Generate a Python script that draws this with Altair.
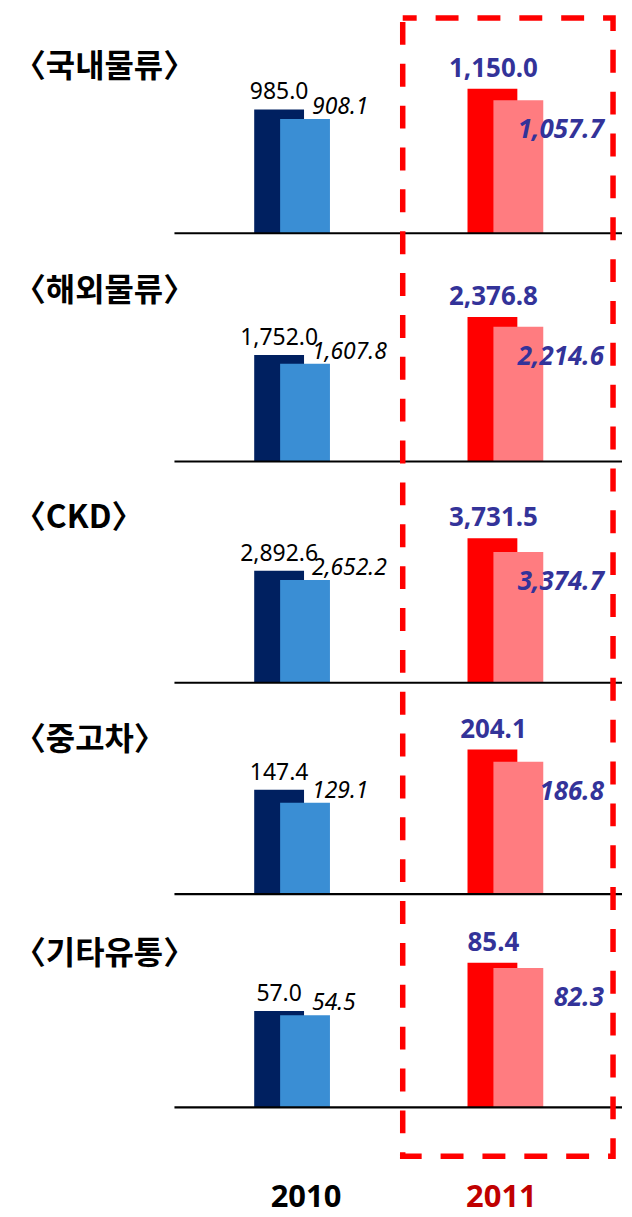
import altair as alt
import pandas as pd

# ---- data ----
categories = ["국내물류", "해외물류", "CKD", "중고차", "기타유통"]
years = ["2010", "2011"]
v2010_a = [985.0, 1752.0, 2892.6, 147.4, 57.0]
v2010_b = [908.1, 1607.8, 2652.2, 129.1, 54.5]
v2011_a = [1150.0, 2376.8, 3731.5, 204.1, 85.4]
v2011_b = [1057.7, 2214.6, 3374.7, 186.8, 82.3]

series_map = [("2010", "A", v2010_a), ("2010", "B", v2010_b),
              ("2011", "A", v2011_a), ("2011", "B", v2011_b)]
rows = []
for i, c in enumerate(categories):
    for yr, s, arr in series_map:
        rows.append({"cat": c, "year": yr, "series": s, "key": yr + s, "value": arr[i]})
df = pd.DataFrame(rows)
title_df = pd.DataFrame({"cat": categories, "label": ["〈" + c + "〉" for c in categories]})
year_df = pd.DataFrame({"year": years})

# ---- layout / style ----
W, H = 616, 1200
baselines = [224, 453, 675, 887, 1101]
title_y = [57, 282, 510, 732, 947]
BAR_H = 145
NUM_FONT = "Noto Sans"
KR_FONT = "Noto Sans CJK KR"
BLUE_TXT = "#333399"

color_scale = alt.Scale(domain=["2010A", "2010B", "2011A", "2011B"],
                        range=["#002060", "#3A8ED4", "#FF0000", "#FF7C80"])
x_scale = alt.Scale(domain=years, range=[178, 606], paddingInner=0, paddingOuter=0)
X = alt.X("year:N", scale=x_scale, axis=None)
C = alt.Color("key:N", scale=color_scale, legend=None)


def panel(i, c):
    vmax = max(v2010_a[i], v2010_b[i], v2011_a[i], v2011_b[i])
    ysc = alt.Scale(domain=[0, vmax], range=[baselines[i], baselines[i] - BAR_H],
                    nice=False, zero=True)
    Y = alt.Y("value:Q", scale=ysc, axis=None)
    base = alt.Chart(df).transform_filter(alt.datum.cat == c)
    T = alt.Text("value:Q", format=",.1f")

    bar_a = base.transform_filter(alt.datum.series == "A").mark_bar(size=50, xOffset=-13).encode(x=X, y=Y, color=C)
    bar_b = base.transform_filter(alt.datum.series == "B").mark_bar(size=50, xOffset=13).encode(x=X, y=Y, color=C)

    t1 = base.transform_filter((alt.datum.series == "A") & (alt.datum.year == "2010")).mark_text(
        xOffset=-13, dy=-10, baseline="alphabetic", align="center", font=NUM_FONT,
        fontSize=23, color="black").encode(x=X, y=Y, text=T)
    t2 = base.transform_filter((alt.datum.series == "B") & (alt.datum.year == "2010")).mark_text(
        xOffset=20, dy=-5, baseline="alphabetic", align="left", font=NUM_FONT,
        fontSize=23, fontStyle="italic", color="black").encode(x=X, y=Y, text=T)
    t3 = base.transform_filter((alt.datum.series == "A") & (alt.datum.year == "2011")).mark_text(
        xOffset=-12, dy=-12, baseline="alphabetic", align="center", font=NUM_FONT,
        fontSize=26, fontWeight="bold", color=BLUE_TXT).encode(x=X, y=Y, text=T)
    t4 = base.transform_filter((alt.datum.series == "B") & (alt.datum.year == "2011")).mark_text(
        xOffset=99, dy=38, baseline="alphabetic", align="right", font=NUM_FONT,
        fontSize=26, fontWeight="bold", fontStyle="italic", color=BLUE_TXT).encode(x=X, y=Y, text=T)

    rule = alt.Chart(title_df).transform_filter(alt.datum.cat == c).mark_rule(
        strokeWidth=2.2, color="black").encode(
        y=alt.YDatum(0, type="quantitative", scale=ysc, axis=None),
        x=alt.value(167), x2=alt.value(W))

    title = alt.Chart(title_df).transform_filter(alt.datum.cat == c).mark_text(
        align="left", baseline="middle", font=KR_FONT, fontSize=32, fontWeight="bold",
        color="black").encode(x=alt.value(6), y=alt.value(title_y[i]), text="label:N")

    return alt.layer(bar_a, bar_b, rule, t1, t2, t3, t4, title)


panels = [panel(i, c) for i, c in enumerate(categories)]

yr2010 = alt.Chart(year_df).transform_filter(alt.datum.year == "2010").mark_text(
    xOffset=14, baseline="middle", align="center", font=NUM_FONT, fontSize=31,
    fontWeight="bold", color="black").encode(x=X, y=alt.value(1192), text="year:N")
yr2011 = alt.Chart(year_df).transform_filter(alt.datum.year == "2011").mark_text(
    xOffset=-4, baseline="middle", align="center", font=NUM_FONT, fontSize=31,
    fontWeight="bold", color="#C00000").encode(x=X, y=alt.value(1192), text="year:N")

box = alt.Chart(year_df).transform_filter(alt.datum.year == "2011").mark_rect(
    filled=False, stroke="#FF0000", strokeWidth=5.5, strokeDash=[23, 19],
    strokeDashOffset=9).encode(x=alt.value(396), x2=alt.value(607),
                               y=alt.value(8), y2=alt.value(1150))

chart = alt.layer(*panels, yr2010, yr2011, box).resolve_scale(y="independent").properties(
    width=W, height=H, padding=0, background="white").configure_view(stroke=None)

chart.save("out.html", embed_options={"renderer": "svg", "actions": False})
